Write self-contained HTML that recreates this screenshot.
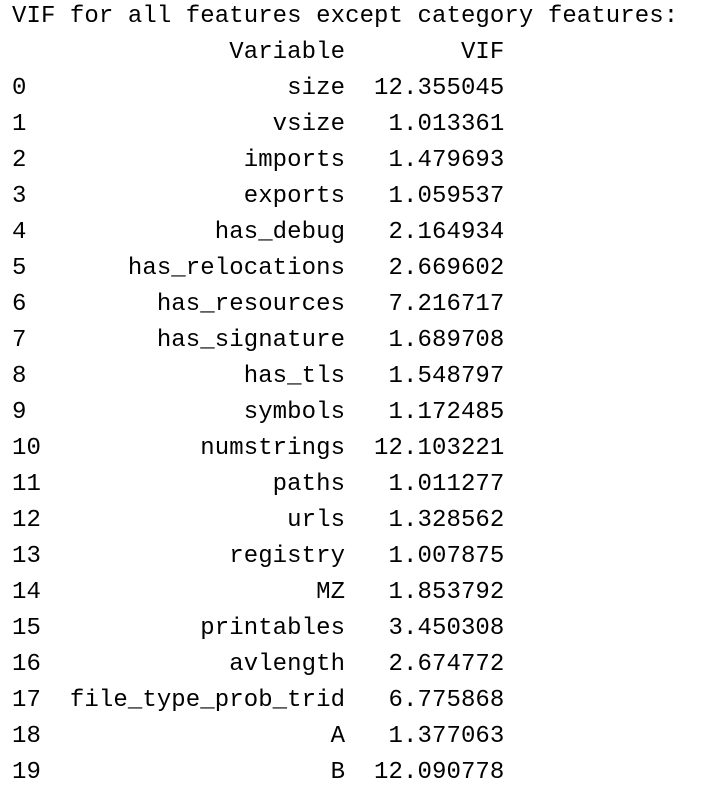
<!DOCTYPE html>
<html><head><meta charset="utf-8"><style>
html,body{margin:0;padding:0;background:#fff;width:708px;height:788px;overflow:hidden}
pre{margin:0;position:absolute;left:12px;top:-1px;font-family:"Liberation Mono","DejaVu Sans Mono",monospace;font-size:24px;line-height:36px;color:#000;letter-spacing:0.08px}
</style></head><body><pre>VIF for all features except category features:
               Variable        VIF
0                  size  12.355045
1                 vsize   1.013361
2               imports   1.479693
3               exports   1.059537
4             has_debug   2.164934
5       has_relocations   2.669602
6         has_resources   7.216717
7         has_signature   1.689708
8               has_tls   1.548797
9               symbols   1.172485
10           numstrings  12.103221
11                paths   1.011277
12                 urls   1.328562
13             registry   1.007875
14                   MZ   1.853792
15           printables   3.450308
16             avlength   2.674772
17  file_type_prob_trid   6.775868
18                    A   1.377063
19                    B  12.090778</pre></body></html>
